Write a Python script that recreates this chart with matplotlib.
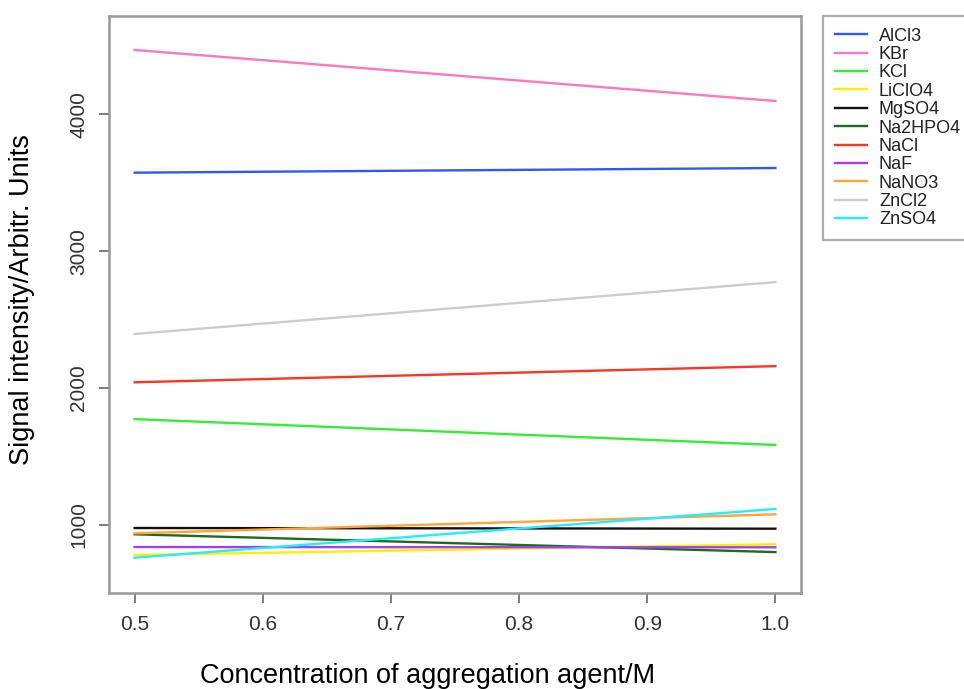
import numpy as np
import matplotlib
matplotlib.use('Agg')
import matplotlib.pyplot as plt

plt.rcParams['font.family'] = ['Liberation Sans', 'DejaVu Sans']

#%% data

conc = [0.5, 1.0]
salts = ['AlCl3', 'KBr', 'KCl', 'LiClO4', 'MgSO4', 'Na2HPO4',
         'NaCl', 'NaF', 'NaNO3', 'ZnCl2', 'ZnSO4']
alcl3 = [3573, 3607]
kbr = [4470, 4097]
kcl = [1772, 1583]
liclo4 = [779, 857]
mgso4 = [976, 971]
na2hpo4 = [930, 800]
nacl = [2041, 2159]
naf = [837, 835]
nano3 = [937, 1076]
zncl2 = [2394, 2773]
znso4 = [759, 1115]
xticks = [0.5, 0.6, 0.7, 0.8, 0.9, 1.0]
yticks = [1000, 2000, 3000, 4000]

signals = [alcl3, kbr, kcl, liclo4, mgso4, na2hpo4,
           nacl, naf, nano3, zncl2, znso4]
colours = ['#3355FF', '#FF77BB', '#33EE33', '#FFEE00', '#111111', '#1E6B1E',
           '#FF3322', '#A040F0', '#FFA533', '#CCCCCC', '#22EEFF']

#%% plot

W, H = 964, 689
fig = plt.figure(figsize=(W / 100, H / 100), dpi=100)
ax = fig.add_axes([109 / W, 1 - 593 / H, (801 - 109) / W, (593 - 16) / H])

for name, sig, col in zip(salts, signals, colours):
    ax.plot(conc, sig, color=col, lw=1.7, label=name)

ax.set_xlim(0.48, 1.02)
ax.set_ylim(501, 4718)
ax.set_xticks(xticks)
ax.set_xticklabels(['%.1f' % t for t in xticks])
ax.set_yticks(yticks)
ax.set_yticklabels([str(t) for t in yticks], rotation=90, va='center')

for sp in ax.spines.values():
    sp.set_color('#999999')
    sp.set_linewidth(1.8)
ax.tick_params(axis='both', direction='out', length=7, width=1.2,
               color='#666666', labelsize=15, labelcolor='#333333')
ax.tick_params(axis='x', pad=9)
ax.tick_params(axis='y', pad=8)

ax.set_xlabel('Concentration of aggregation agent/M', fontsize=19.5)
ax.xaxis.label.set_va('center')
ax.xaxis.set_label_coords(0.46, -0.144)
ax.set_ylabel('Signal intensity/Arbitr. Units', fontsize=19.5)
ax.yaxis.label.set_va('center')
ax.yaxis.set_label_coords(-0.126, 0.508)

leg = ax.legend(loc='upper left', bbox_to_anchor=(823 / W, 1 - 16 / H),
                bbox_transform=fig.transFigure, fontsize=13, frameon=True,
                fancybox=False, borderaxespad=0, borderpad=0.65,
                handlelength=1.8, handletextpad=0.65, labelspacing=0.075)
leg.get_frame().set_edgecolor('#999999')
leg.get_frame().set_linewidth(1.6)
for t in leg.get_texts():
    t.set_color('#222222')

fig.savefig('out.png', dpi=100)
